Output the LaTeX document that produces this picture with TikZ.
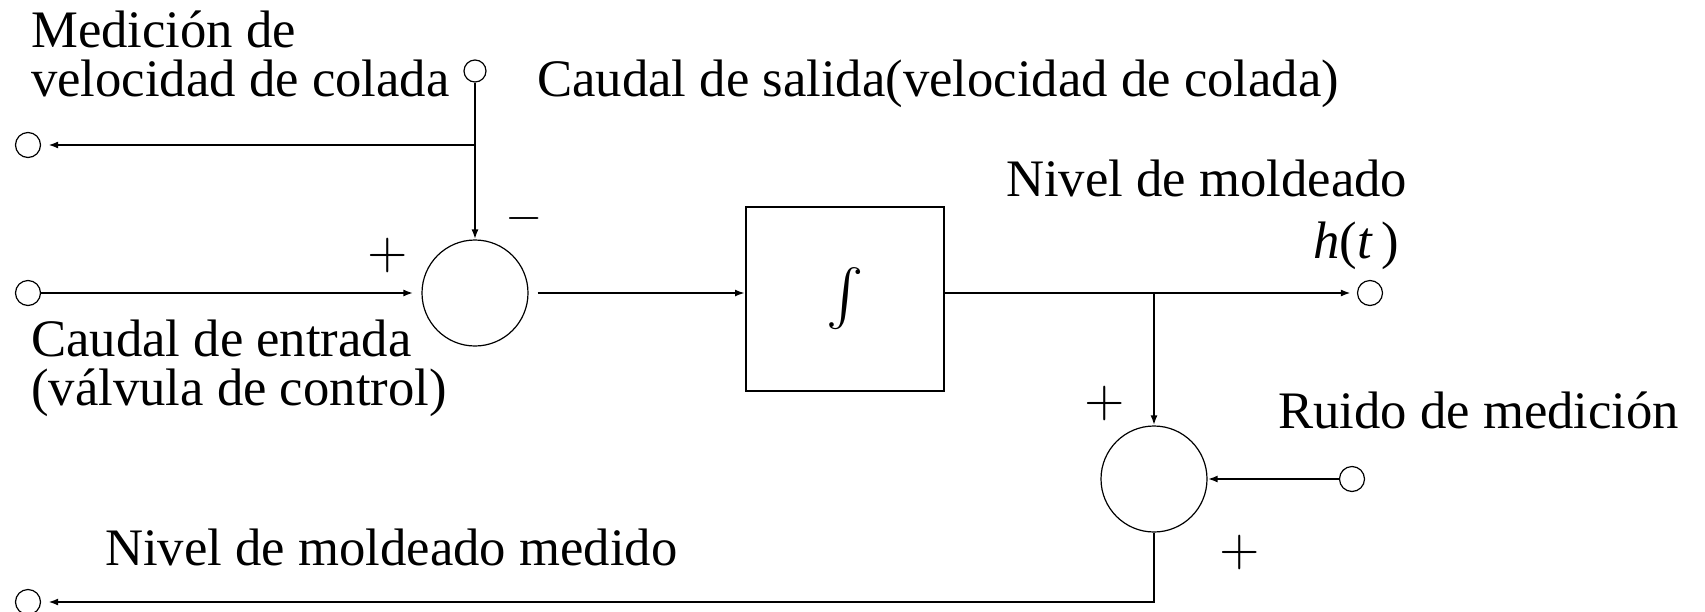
\documentclass[tikz,border=0pt]{standalone}
\usepackage{graphicx}
\usepackage{fontspec}
\setmainfont{Liberation Serif}
\usetikzlibrary{arrows.meta}
\begin{document}
\begin{tikzpicture}[x=1pt,y=-1pt,
  lbl/.style={inner sep=0pt,anchor=base west,font=\fontsize{52.7}{49}\selectfont,align=left},
  sgn/.style={inner sep=0pt,anchor=center},
  term/.style={circle,draw,line width=1.2pt,inner sep=0pt,minimum size=25pt},
  sumnode/.style={circle,draw,line width=1.2pt,inner sep=0pt,minimum size=106pt},
  blk/.style={draw,line width=2pt,minimum width=198pt,minimum height=184pt,inner sep=0pt},
  conn/.style={line width=2pt,-{Latex[length=10pt,width=7pt]}},
  wire/.style={line width=2pt}]
\useasboundingbox (0,0) rectangle (1705,611);
% terminals
\node[term] (tin) at (28,293) {};
\node[term] (tfb) at (28,145) {};
\node[term,minimum size=22pt] (tmeas) at (475,71) {};
\node[term] (tout) at (1370,293) {};
\node[term] (tnoise) at (1352,479) {};
\node[term] (tmm) at (28,602) {};
% blocks
\node[sumnode] (s1) at (475,293) {};
\node[sumnode] (s2) at (1154,479) {};
\node[blk] (int) at (845,299) {\raisebox{-4pt}{\scalebox{5.6}{$\int$}}};
% junctions
\coordinate (j1) at (475,145);
\coordinate (j2) at (1154,293);
% connectors
\draw[conn,shorten >=8pt] (tin) -- (s1);
\draw[conn] (tmeas) -- (s1);
\draw[conn,shorten >=7pt] (j1) -- (tfb);
\draw[conn,shorten <=9pt] (s1.east) -- (s1.east -| int.west);
\draw[conn,shorten >=6pt] (int.east |- tout) -- (tout);
\draw[conn] (j2) -- (s2);
\draw[conn] (tnoise) -- (s2);
\draw[conn,shorten >=7pt] (s2.south) |- (tmm);
% signs
\node[sgn] (p1) at (388,255) {\scalebox{5.2}{$+$}};
\node[sgn] (m1) at (524,218) {\scalebox{4.8}{$-$}};
\node[sgn] (p2) at (1105,403) {\scalebox{5.2}{$+$}};
\node[sgn] (p3) at (1240,552) {\scalebox{5.2}{$+$}};
% labels
\node[lbl] (lmeas) at (31,96) {Medición de\\velocidad de colada};
\node[lbl] (lsal) at (537,96) {Caudal de salida(velocidad de colada)};
\node[lbl] (lin) at (31,405) {Caudal de entrada\\(válvula de control)};
\node[lbl] (lniv) at (1006,196) {Nivel de moldeado};
\node[lbl] (lh) at (1313,258) {\textit{h}(\textit{t}\,)};
\node[lbl] (lruido) at (1278,428) {Ruido de medición};
\node[lbl] (lmed) at (105,565) {Nivel de moldeado medido};
\end{tikzpicture}
\end{document}
